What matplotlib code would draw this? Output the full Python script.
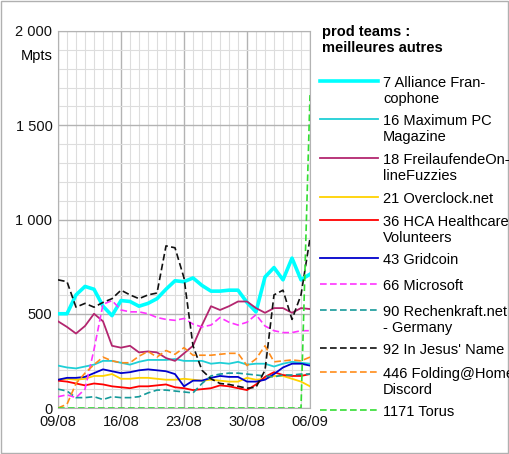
import matplotlib.pyplot as plt
from matplotlib.patches import Rectangle
from matplotlib.ticker import MultipleLocator, FuncFormatter

plt.rcParams['font.family'] = ['Liberation Sans', 'DejaVu Sans']

days = list(range(29))
tick_days = [0, 7, 14, 21, 28]
tick_labels = ["09/08", "16/08", "23/08", "30/08", "06/09"]

alliance = [500, 500, 600, 645, 630, 540, 490, 570, 565, 540, 555, 580, 630, 675, 670, 690, 650, 620, 620, 625, 625, 560, 510, 695, 745, 680, 795, 680, 710]
maxpc = [225, 215, 210, 220, 230, 250, 250, 240, 230, 245, 255, 255, 255, 260, 250, 250, 250, 235, 240, 235, 245, 230, 235, 235, 220, 235, 245, 240, 235]
freilauf = [460, 430, 395, 435, 500, 460, 330, 320, 330, 295, 300, 295, 265, 250, 290, 330, 440, 540, 520, 540, 565, 565, 530, 505, 530, 530, 505, 530, 525]
overclock = [150, 155, 150, 155, 170, 170, 180, 155, 155, 160, 160, 155, 150, 150, 155, 150, 145, 150, 145, 140, 140, 160, 150, 155, 170, 170, 155, 140, 115]
hca = [145, 140, 130, 120, 130, 125, 115, 110, 105, 115, 115, 120, 125, 110, 105, 95, 100, 105, 120, 115, 105, 95, 125, 165, 190, 175, 170, 170, 180]
gridcoin = [150, 160, 160, 165, 185, 205, 195, 185, 190, 200, 205, 200, 195, 180, 115, 145, 145, 160, 170, 165, 165, 140, 140, 150, 180, 215, 235, 235, 225]
microsoft = [60, 70, 55, 100, 310, 550, 570, 520, 510, 510, 500, 480, 470, 465, 475, 445, 430, 440, 480, 455, 440, 455, 495, 435, 410, 400, 400, 410, 410]
rechenkraft = [100, 90, 55, 55, 60, 45, 60, 55, 55, 60, 80, 95, 95, 90, 85, 80, 130, 170, 180, 185, 185, 180, 175, 170, 165, 175, 175, 180, 180]
jesus = [680, 670, 535, 555, 535, 560, 580, 625, 600, 580, 600, 610, 860, 850, 690, 330, 200, 155, 130, 125, 115, 105, 110, 200, 600, 625, 470, 600, 900]
folding = [0, 20, 130, 185, 230, 270, 250, 240, 240, 275, 300, 270, 305, 285, 320, 280, 280, 280, 285, 290, 290, 225, 260, 330, 245, 250, 255, 250, 270]
torus = [0] * 28 + [1660]

series = [
    ("7 Alliance Fran-\ncophone", alliance, "#00ffff", 2.6, "-"),
    ("16 Maximum PC\nMagazine", maxpc, "#1fcfd6", 1.3, "-"),
    ("18 FreilaufendeOn-\nlineFuzzies", freilauf, "#b3266f", 1.3, "-"),
    ("21 Overclock.net", overclock, "#ffd200", 1.3, "-"),
    ("36 HCA Healthcare\nVolunteers", hca, "#ff0000", 1.3, "-"),
    ("43 Gridcoin", gridcoin, "#0000cc", 1.3, "-"),
    ("66 Microsoft", microsoft, "#ff33ff", 1.2, (0, (4, 2))),
    ("90 Rechenkraft.net\n- Germany", rechenkraft, "#159a9a", 1.2, (0, (4, 2))),
    ("92 In Jesus' Name", jesus, "#111111", 1.2, (0, (4, 2))),
    ("446 Folding@Home\nDiscord", folding, "#ff8c1a", 1.2, (0, (4, 2))),
    ("1171 Torus", torus, "#33dd33", 1.2, (0, (4, 2))),
]
legend_y = [81, 119, 158, 197, 220, 258, 284, 310, 348, 372, 410]

W, H = 510, 454
fig = plt.figure(figsize=(W / 100, H / 100), dpi=100)
fig.patches.append(Rectangle((0.002, 0.002), 0.995, 0.995, transform=fig.transFigure,
                             fill=False, edgecolor="#b0b0b0", linewidth=1))
ax = fig.add_axes([58 / W, 1 - 408 / H, 252 / W, 377 / H])

for label, vals, color, lw, ls in series:
    ax.plot(days, vals, color=color, linewidth=lw, linestyle=ls, zorder=3)

ax.set_xlim(0, 28)
ax.set_ylim(0, 2000)
ax.xaxis.set_minor_locator(MultipleLocator(1))
ax.yaxis.set_major_locator(MultipleLocator(500))
ax.yaxis.set_minor_locator(MultipleLocator(100))
ax.set_xticks(tick_days)
ax.set_xticklabels(tick_labels)
ax.yaxis.set_major_formatter(FuncFormatter(lambda v, p: f"{int(v):,}".replace(",", " ")))
ax.grid(which="major", color="#b3b3b3", linewidth=1)
ax.grid(which="minor", color="#dddddd", linewidth=0.8)
ax.tick_params(which="both", length=0, labelsize=10.5, colors="#111111")
ax.tick_params(axis="x", pad=5)
ax.tick_params(axis="y", pad=4)
for s in ax.spines.values():
    s.set_color("#b3b3b3")
ax.text(-0.6, 1870, "Mpts", ha="right", va="center", fontsize=10.5)

fig.text(322 / W, 1 - 40 / H, "prod teams :\nmeilleures autres", fontsize=10.5,
         fontweight="bold", va="center", ha="left", linespacing=1.1)
for (label, vals, color, lw, ls), y in zip(series, legend_y):
    fy = 1 - y / H
    fig.add_artist(plt.Line2D([320 / W, 378 / W], [fy, fy], color=color, linewidth=lw,
                              linestyle=ls, transform=fig.transFigure))
    fig.text(383 / W, 1 - (y - 5) / H, label, fontsize=10.5, va="top", ha="left",
             linespacing=1.15)

fig.savefig("out.png", dpi=100)
